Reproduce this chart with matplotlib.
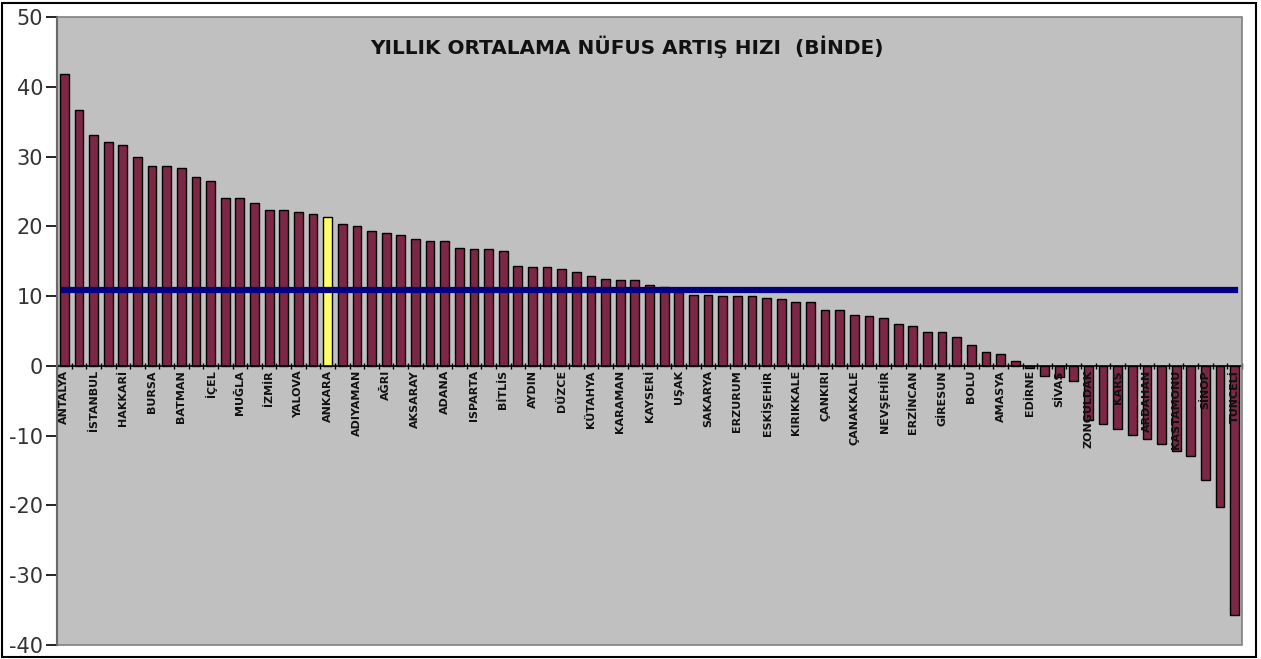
import matplotlib
matplotlib.use("Agg")
import matplotlib.pyplot as plt
from matplotlib.patches import Rectangle
import numpy as np

labeled = ["ANTALYA", "İSTANBUL", "HAKKARİ", "BURSA", "BATMAN", "İÇEL", "MUĞLA", "İZMİR",
           "YALOVA", "ANKARA", "ADIYAMAN", "AĞRI", "AKSARAY", "ADANA", "ISPARTA", "BİTLİS",
           "AYDIN", "DÜZCE", "KÜTAHYA", "KARAMAN", "KAYSERİ", "UŞAK", "SAKARYA", "ERZURUM",
           "ESKİŞEHİR", "KIRIKKALE", "ÇANKIRI", "ÇANAKKALE", "NEVŞEHİR", "ERZİNCAN", "GİRESUN",
           "BOLU", "AMASYA", "EDİRNE", "SİVAS", "ZONGULDAK", "KARS", "ARDAHAN", "KASTAMONU",
           "SİNOP", "TUNCELİ"]

values = [41.8, 36.7, 33.1, 32.1, 31.7, 29.9, 28.7, 28.6, 28.4, 27.1,
          26.5, 24.1, 24.0, 23.4, 22.4, 22.4, 22.1, 21.7, 21.4, 20.4,
          20.1, 19.3, 19.1, 18.8, 18.2, 17.9, 17.9, 16.9, 16.8, 16.8,
          16.5, 14.3, 14.2, 14.2, 13.9, 13.5, 12.9, 12.5, 12.3, 12.3,
          11.6, 11.3, 10.6, 10.2, 10.2, 10.0, 10.0, 10.0, 9.7, 9.6,
          9.2, 9.1, 8.0, 8.0, 7.3, 7.2, 6.9, 6.0, 5.7, 4.9,
          4.9, 4.2, 3.0, 2.0, 1.7, 0.7, -0.3, -1.4, -1.6, -2.1,
          -7.8, -8.3, -9.0, -9.9, -10.5, -11.2, -12.2, -12.9, -16.3, -20.2,
          -35.7]

turkey_average = 10.9
highlight = "ANKARA"

yticks = [-40, -30, -20, -10, 0, 10, 20, 30, 40, 50]
title = "YILLIK ORTALAMA NÜFUS ARTIŞ HIZI  (BİNDE)"

n = len(values)
tick_labels = [""] * n
for k, name in enumerate(labeled):
    tick_labels[2 * k] = name

x = np.arange(n)
colors = ["#7b2745"] * n
colors[tick_labels.index(highlight)] = "#ffff66"

fig = plt.figure(figsize=(12.61, 6.59), dpi=100)
fig.patch.set_facecolor("white")
ax = fig.add_axes([57 / 1261, 14 / 659, (1242 - 57) / 1261, (645 - 17) / 659])
ax.set_facecolor("#c0c0c0")
ax.set_axisbelow(False)

ax.bar(x, values, width=0.6, color=colors, edgecolor="black", linewidth=1.0, zorder=2)
ax.plot([x[0], x[-1]], [turkey_average, turkey_average], color="#000080", linewidth=4.5, zorder=3)

ax.set_xlim(-0.5, n - 0.5)
ax.set_ylim(-40, 50)
ax.set_yticks(yticks)
ax.set_yticklabels([str(t) for t in yticks], fontsize=15, color="#333333")
ax.tick_params(axis="y", direction="out", length=8, width=1.2, pad=2, color="black")

ax.spines["bottom"].set_position(("data", 0))
ax.spines["bottom"].set_linewidth(1.2)
ax.spines["top"].set_visible(False)
ax.spines["right"].set_visible(False)
ax.spines["left"].set_linewidth(1.5)

ax.set_xticks(x)
ax.set_xticklabels(tick_labels, rotation=90, fontsize=8, fontweight="bold",
                   family=["Liberation Sans Narrow", "DejaVu Sans"], color="#111111")
ax.tick_params(axis="x", which="major", length=0, pad=3)
ax.set_xticks(np.arange(n + 1) - 0.5, minor=True)
ax.tick_params(axis="x", which="minor", length=4, width=1.0, direction="inout", color="black")

ax.add_patch(Rectangle((0, 0), 1, 1, transform=ax.transAxes, fill=False,
                       edgecolor="#808080", linewidth=1.2, zorder=5, clip_on=False))

ax.text(0.481, 0.953, title, transform=ax.transAxes, ha="center", va="center",
        fontsize=14.4, fontweight="bold", color="#111111")

fig.patches.append(Rectangle((2 / 1261, 2 / 659), 1254 / 1261, 654 / 659, transform=fig.transFigure,
                             fill=False, edgecolor="black", linewidth=1.5))

fig.savefig("out.png", dpi=100)
